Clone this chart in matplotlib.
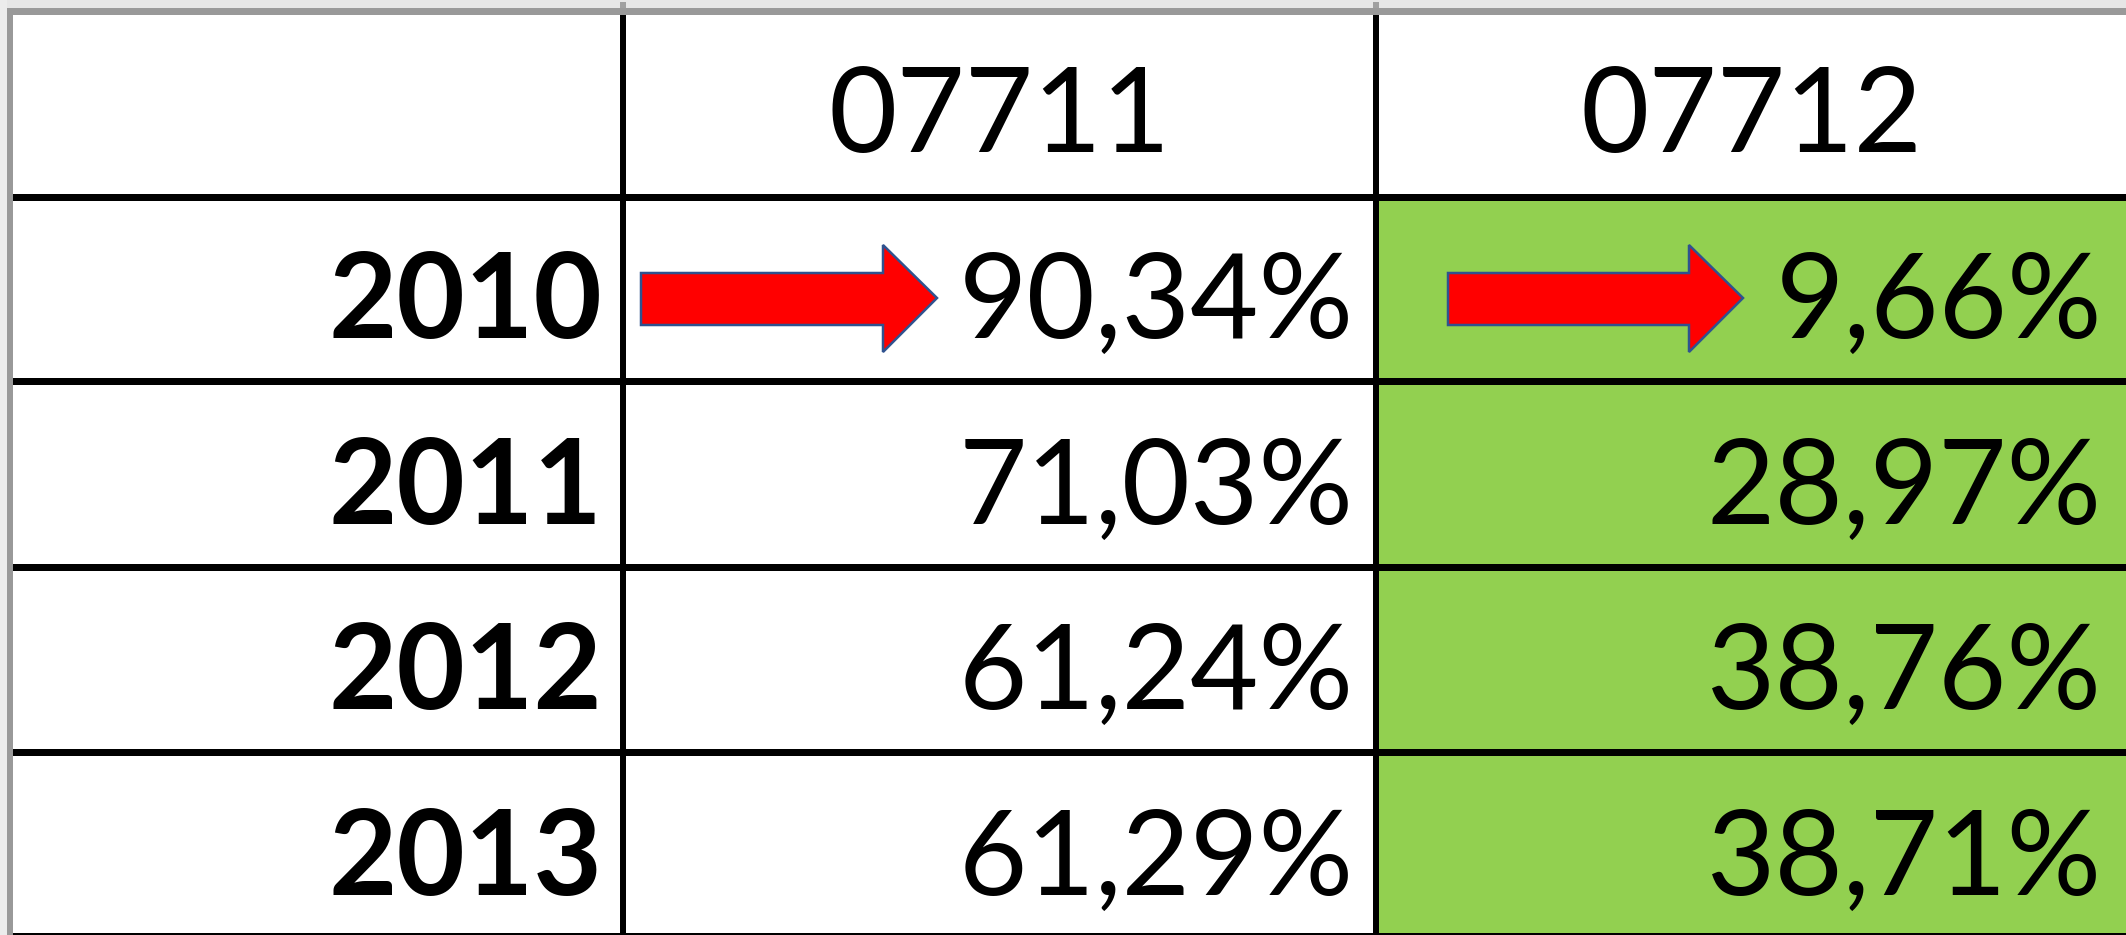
import matplotlib
matplotlib.use("Agg")
import matplotlib.pyplot as plt
from matplotlib.patches import Rectangle, Polygon

# ---- data ----
col_headers = ["07711", "07712"]
years = ["2010", "2011", "2012", "2013"]
share_07711 = ["90,34%", "71,03%", "61,24%", "61,29%"]
share_07712 = ["9,66%", "28,97%", "38,76%", "38,71%"]
arrow_rows = ["2010"]

# ---- layout (pixel units) ----
W, H = 2126, 935
col_edges = [13, 623, 1376, 2126]
row_edges = [15, 197, 381, 567, 752, 934]
GREEN = "#92D050"
FONT = "Lato"
FS = 85

fig = plt.figure(figsize=(W / 100, H / 100), dpi=100)
ax = fig.add_axes([0, 0, 1, 1])
ax.set_xlim(0, W)
ax.set_ylim(H, 0)
ax.axis("off")
fig.patch.set_facecolor("white")

# window chrome: light strips + gray border
ax.add_patch(Rectangle((0, 0), W, 8, color="#e6e6e6", lw=0))
ax.add_patch(Rectangle((0, 0), 7, H, color="#ececec", lw=0))
ax.add_patch(Rectangle((7, 8), W - 7, 7, color="#999999", lw=0))
ax.add_patch(Rectangle((7, 8), 6, H - 8, color="#999999", lw=0))
for x in (col_edges[1], col_edges[2]):
    ax.add_patch(Rectangle((x - 3, 2), 6, 6, color="#a0a0a0", lw=0))

# green column for 07712 data cells
ax.add_patch(Rectangle((col_edges[2], row_edges[1]), col_edges[3] - col_edges[2],
                       row_edges[-1] - row_edges[1], color=GREEN, lw=0))

# grid lines
for y in row_edges[1:-1]:
    ax.add_patch(Rectangle((col_edges[0], y - 3.5), W - col_edges[0], 7, color="black", lw=0))
ax.add_patch(Rectangle((col_edges[0], H - 2), W - col_edges[0], 2, color="black", lw=0))
for x in (col_edges[1], col_edges[2]):
    ax.add_patch(Rectangle((x - 3, row_edges[0]), 6, H - row_edges[0], color="black", lw=0))

# header text
baselines = [152, 338, 524, 709, 895]
for j, hdr in enumerate(col_headers):
    cx = (col_edges[j + 1] + col_edges[j + 2]) / 2
    ax.text(cx, baselines[0], hdr, ha="center", va="baseline",
            fontsize=FS, family=FONT, color="black")

# body
for i, yr in enumerate(years):
    b = baselines[i + 1]
    ax.text(602, b, yr, ha="right", va="baseline", fontsize=FS,
            family=FONT, fontweight="bold", color="black")
    ax.text(1354, b, share_07711[i], ha="right", va="baseline", fontsize=FS,
            family=FONT, color="black")
    ax.text(2102, b, share_07712[i], ha="right", va="baseline", fontsize=FS,
            family=FONT, color="black")

# red arrows
def arrow(x0, tip, yc):
    hb = tip - 54
    pts = [(x0, yc - 25), (hb, yc - 25), (hb, yc - 53), (tip, yc),
           (hb, yc + 54), (hb, yc + 27), (x0, yc + 27)]
    ax.add_patch(Polygon(pts, closed=True, facecolor="#FF0000",
                         edgecolor="#2F528F", lw=1.8, joinstyle="miter"))

for yr in arrow_rows:
    i = years.index(yr)
    yc = (row_edges[i + 1] + row_edges[i + 2]) / 2 + 9
    arrow(641, 937, yc)
    arrow(1448, 1743, yc)

fig.savefig("out.png", dpi=100, facecolor="white")
